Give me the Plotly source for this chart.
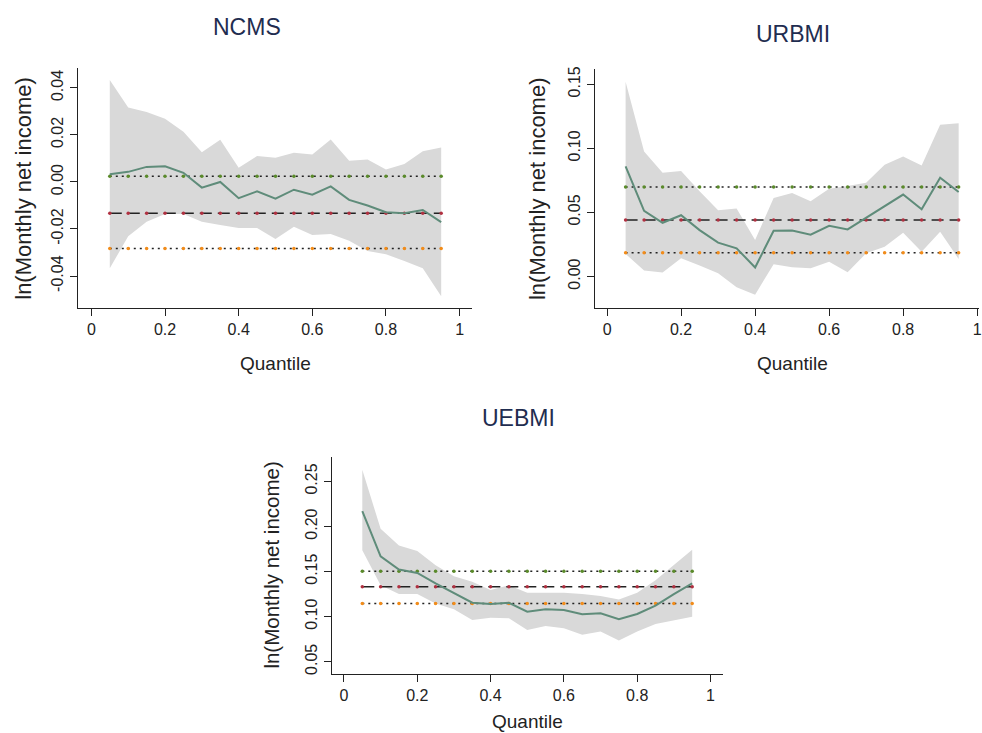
import plotly.graph_objects as go

# ---------------- data ----------------
quantiles = [0.05, 0.10, 0.15, 0.20, 0.25, 0.30, 0.35, 0.40, 0.45, 0.50,
             0.55, 0.60, 0.65, 0.70, 0.75, 0.80, 0.85, 0.90, 0.95]

ncms_coef = [0.0033, 0.0043, 0.0064, 0.0067, 0.0039, -0.0024, 0.0000, -0.0069, -0.0040, -0.0071,
             -0.0033, -0.0054, -0.0019, -0.0076, -0.0100, -0.0129, -0.0133, -0.0119, -0.0171]
ncms_upper = [0.0433, 0.0317, 0.0297, 0.0269, 0.0214, 0.0126, 0.0179, 0.0060, 0.0110, 0.0103,
              0.0124, 0.0117, 0.0181, 0.0090, 0.0096, 0.0053, 0.0076, 0.0131, 0.0147]
ncms_lower = [-0.0367, -0.0231, -0.0169, -0.0136, -0.0136, -0.0169, -0.0183, -0.0196, -0.0196, -0.0243,
              -0.0190, -0.0226, -0.0221, -0.0250, -0.0293, -0.0307, -0.0336, -0.0367, -0.0486]
ncms_ols = -0.0133
ncms_ols_upper = 0.0024
ncms_ols_lower = -0.0283

urbmi_coef = [0.0859, 0.0512, 0.0419, 0.0478, 0.0362, 0.0264, 0.0220, 0.0070, 0.0357, 0.0359,
              0.0326, 0.0396, 0.0367, 0.0458, 0.0551, 0.0639, 0.0525, 0.0771, 0.0659]
urbmi_upper = [0.1520, 0.0975, 0.0809, 0.0822, 0.0665, 0.0517, 0.0530, 0.0284, 0.0613, 0.0652,
               0.0587, 0.0685, 0.0706, 0.0732, 0.0871, 0.0936, 0.0866, 0.1184, 0.1195]
urbmi_lower = [0.0176, 0.0047, 0.0031, 0.0142, 0.0085, 0.0026, -0.0083, -0.0142, 0.0096, 0.0072,
               0.0065, 0.0116, 0.0034, 0.0181, 0.0233, 0.0341, 0.0194, 0.0349, 0.0137]
urbmi_ols = 0.0440
urbmi_ols_upper = 0.0698
urbmi_ols_lower = 0.0186

uebmi_coef = [0.2169, 0.1669, 0.1522, 0.1485, 0.1368, 0.1265, 0.1154, 0.1140, 0.1154, 0.1055,
              0.1081, 0.1074, 0.1026, 0.1037, 0.0971, 0.1029, 0.1121, 0.1250, 0.1368]
uebmi_upper = [0.2629, 0.1974, 0.1790, 0.1728, 0.1570, 0.1449, 0.1386, 0.1294, 0.1349, 0.1265,
               0.1265, 0.1265, 0.1250, 0.1228, 0.1191, 0.1265, 0.1404, 0.1570, 0.1743]
uebmi_lower = [0.1735, 0.1349, 0.1250, 0.1250, 0.1147, 0.1081, 0.0963, 0.0989, 0.0982, 0.0853,
               0.0897, 0.0871, 0.0798, 0.0835, 0.0735, 0.0835, 0.0919, 0.0963, 0.1000]
uebmi_ols = 0.1331
uebmi_ols_upper = 0.1504
uebmi_ols_lower = 0.1147

x_tickvals = [0, 0.2, 0.4, 0.6, 0.8, 1]
x_ticktext = ["0", "0.2", "0.4", "0.6", "0.8", "1"]

ncms_yticks = [-0.04, -0.02, 0.0, 0.02, 0.04]
ncms_yticktext = ["-0.04", "-0.02", "0.00", "0.02", "0.04"]
urbmi_yticks = [0.0, 0.05, 0.10, 0.15]
urbmi_yticktext = ["0.00", "0.05", "0.10", "0.15"]
uebmi_yticks = [0.05, 0.10, 0.15, 0.20, 0.25]
uebmi_yticktext = ["0.05", "0.10", "0.15", "0.20", "0.25"]

titles = ["NCMS", "URBMI", "UEBMI"]
y_title = "ln(Monthly net income)"
x_title = "Quantile"

# ---------------- layout helpers ----------------
W, H = 982, 733
FONT = "Liberation Sans, Arial, sans-serif"

def px_x(p):
    return p / W

def px_y(p):
    return 1 - p / H

panels = [
    dict(coef=ncms_coef, up=ncms_upper, lo=ncms_lower,
         ols=ncms_ols, olsu=ncms_ols_upper, olsl=ncms_ols_lower,
         xdom=(78, 473), ydom=(65, 306.7), xr=(-0.037, 1.0325), yr=(-0.0536, 0.0486),
         yt=ncms_yticks, ytt=ncms_yticktext,
         title_xy=(248, 24), ytitle_x=24, ytitle_size=22, xtitle_xy=(276, 362)),
    dict(coef=urbmi_coef, up=urbmi_upper, lo=urbmi_lower,
         ols=urbmi_ols, olsu=urbmi_ols_upper, olsl=urbmi_ols_lower,
         xdom=(596.7, 982), ydom=(66.7, 306.7), xr=(-0.033, 1.005), yr=(-0.0246, 0.1616),
         yt=urbmi_yticks, ytt=urbmi_yticktext,
         title_xy=(795, 31), ytitle_x=539, ytitle_size=22, xtitle_xy=(795, 362)),
    dict(coef=uebmi_coef, up=uebmi_upper, lo=uebmi_lower,
         ols=uebmi_ols, olsu=uebmi_ols_upper, olsl=uebmi_ols_lower,
         xdom=(332.7, 725), ydom=(456.7, 674.3), xr=(-0.0335, 1.0335), yr=(0.0368, 0.2768),
         yt=uebmi_yticks, ytt=uebmi_yticktext,
         title_xy=(520, 417), ytitle_x=272, ytitle_size=20.5, xtitle_xy=(529, 722)),
]

fig = go.Figure()
annotations = []

for i, p in enumerate(panels):
    k = "" if i == 0 else str(i + 1)
    xa, ya = "x" + k, "y" + k
    n = len(quantiles)
    # confidence band
    fig.add_trace(go.Scatter(x=quantiles, y=p["lo"], mode="lines", line=dict(width=0, color="#d9d9d9"),
                             hoverinfo="skip", showlegend=False, xaxis=xa, yaxis=ya))
    fig.add_trace(go.Scatter(x=quantiles, y=p["up"], mode="lines", line=dict(width=0, color="#d9d9d9"),
                             fill="tonexty", fillcolor="#d9d9d9",
                             hoverinfo="skip", showlegend=False, xaxis=xa, yaxis=ya))
    # OLS estimate and its confidence interval
    fig.add_trace(go.Scatter(x=quantiles, y=[p["olsu"]] * n, mode="lines+markers",
                             line=dict(color="#222222", width=1.5, dash="2px,4px"),
                             marker=dict(color="#5a8a2a", size=3.5),
                             showlegend=False, xaxis=xa, yaxis=ya))
    fig.add_trace(go.Scatter(x=quantiles, y=[p["olsl"]] * n, mode="lines+markers",
                             line=dict(color="#222222", width=1.5, dash="2px,4px"),
                             marker=dict(color="#f28c1a", size=3.5),
                             showlegend=False, xaxis=xa, yaxis=ya))
    fig.add_trace(go.Scatter(x=quantiles, y=[p["ols"]] * n, mode="lines+markers",
                             line=dict(color="#222222", width=1.5, dash="12px,6px"),
                             marker=dict(color="#b03040", size=3.5),
                             showlegend=False, xaxis=xa, yaxis=ya))
    # quantile regression coefficients
    fig.add_trace(go.Scatter(x=quantiles, y=p["coef"], mode="lines",
                             line=dict(color="#5f8c7a", width=2),
                             showlegend=False, xaxis=xa, yaxis=ya))

    axis_common = dict(showgrid=False, zeroline=False, showline=True, linecolor="#222222", linewidth=1.2,
                       ticks="outside", ticklen=7, tickwidth=1.2, tickcolor="#222222",
                       tickfont=dict(family=FONT, size=16, color="#222222"), fixedrange=True,
                       ticklabeloverflow="allow")
    fig.update_layout(**{
        "xaxis" + k: dict(domain=[px_x(p["xdom"][0]), px_x(p["xdom"][1])], range=list(p["xr"]),
                          anchor=ya, tickmode="array", tickvals=x_tickvals, ticktext=x_ticktext,
                          **axis_common),
        "yaxis" + k: dict(domain=[px_y(p["ydom"][1]), px_y(p["ydom"][0])], range=list(p["yr"]),
                          anchor=xa, tickmode="array", tickvals=p["yt"], ticktext=p["ytt"],
                          tickangle=-90, **axis_common),
    })

    annotations.append(dict(text=titles[i], x=px_x(p["title_xy"][0]), y=px_y(p["title_xy"][1]),
                            xref="paper", yref="paper", showarrow=False, xanchor="center", yanchor="middle",
                            font=dict(family=FONT, size=23, color="#1f2d50")))
    annotations.append(dict(text=y_title, x=px_x(p["ytitle_x"]), y=px_y((p["ydom"][0] + p["ydom"][1]) / 2),
                            xref="paper", yref="paper", showarrow=False, textangle=-90,
                            xanchor="center", yanchor="middle",
                            font=dict(family=FONT, size=p["ytitle_size"], color="#222222")))
    annotations.append(dict(text=x_title, x=px_x(p["xtitle_xy"][0]), y=px_y(p["xtitle_xy"][1]),
                            xref="paper", yref="paper", showarrow=False, xanchor="center", yanchor="middle",
                            font=dict(family=FONT, size=19, color="#222222")))

fig.update_layout(width=W, height=H, margin=dict(l=0, r=0, t=0, b=0),
                  paper_bgcolor="white", plot_bgcolor="white",
                  annotations=annotations, showlegend=False)

fig.write_html("out.html", config={"displayModeBar": False})

# remove the browser's default body margin so the figure sits at the page origin
with open("out.html", "r", encoding="utf-8") as f:
    html = f.read()
html = html.replace("<body>", '<body style="margin:0;overflow:hidden">', 1)
with open("out.html", "w", encoding="utf-8") as f:
    f.write(html)
